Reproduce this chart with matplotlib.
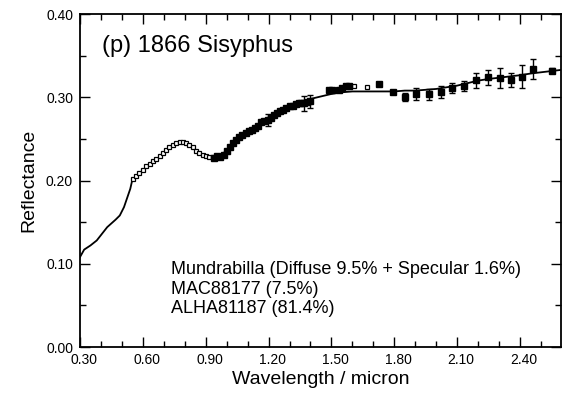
import matplotlib
matplotlib.use("Agg")
import matplotlib.pyplot as plt
import matplotlib.transforms as mtransforms
from matplotlib.ticker import MultipleLocator, FormatStrFormatter

plt.rcParams['font.family'] = ['Liberation Sans', 'DejaVu Sans']

# model spectrum (mixture fit)
model_x = [0.30, 0.32, 0.35, 0.38, 0.43, 0.47, 0.49, 0.51, 0.54, 0.55,
           0.58, 0.62, 0.65, 0.68, 0.72, 0.75, 0.78, 0.81, 0.84, 0.87,
           0.90, 0.93, 0.96, 0.99, 1.02, 1.06, 1.10, 1.15, 1.20, 1.25,
           1.30, 1.35, 1.40, 1.45, 1.50, 1.55, 1.60, 1.65, 1.70, 1.75,
           1.80, 1.85, 1.90, 1.95, 2.00, 2.05, 2.10, 2.15, 2.20, 2.25,
           2.30, 2.35, 2.40, 2.45, 2.50, 2.55, 2.60]
model_y = [0.108, 0.117, 0.122, 0.128, 0.144, 0.153, 0.158, 0.168, 0.190, 0.201,
           0.208, 0.216, 0.222, 0.228, 0.238, 0.244, 0.246, 0.244, 0.239, 0.233,
           0.229, 0.228, 0.229, 0.234, 0.241, 0.250, 0.257, 0.265, 0.273, 0.281,
           0.288, 0.294, 0.298, 0.301, 0.304, 0.306, 0.307, 0.307, 0.307, 0.307,
           0.307, 0.308, 0.308, 0.309, 0.310, 0.312, 0.314, 0.317, 0.320, 0.322,
           0.3235, 0.325, 0.3265, 0.3285, 0.330, 0.3315, 0.333]

# visible asteroid spectrum (open squares)
open_x = [0.552, 0.568, 0.584, 0.600, 0.616, 0.632, 0.648, 0.664, 0.680, 0.695,
          0.710, 0.727, 0.743, 0.759, 0.775, 0.791, 0.807, 0.822, 0.838, 0.854,
          0.870, 0.886, 0.902, 0.918, 0.934, 1.608, 1.672]
open_y = [0.202, 0.205, 0.209, 0.213, 0.217, 0.220, 0.223, 0.226, 0.229, 0.233,
          0.237, 0.240, 0.243, 0.245, 0.246, 0.246, 0.245, 0.243, 0.240, 0.236,
          0.233, 0.231, 0.229, 0.228, 0.228, 0.313, 0.312]

# near-IR spectrum (filled squares)
fill_x = [0.940, 0.955, 0.970, 0.985, 1.000, 1.015, 1.030, 1.045, 1.060, 1.075,
          1.090, 1.105, 1.120, 1.135, 1.150, 1.165, 1.180, 1.210, 1.225, 1.240,
          1.255, 1.270, 1.285, 1.300, 1.315, 1.330, 1.345, 1.355, 1.385,
          1.489, 1.505, 1.537, 1.552, 1.570, 1.584, 1.727, 1.794]
fill_y = [0.227, 0.229, 0.228, 0.231, 0.236, 0.240, 0.245, 0.249, 0.252, 0.255,
          0.257, 0.259, 0.261, 0.263, 0.266, 0.270, 0.272, 0.275, 0.279, 0.281,
          0.283, 0.285, 0.287, 0.289, 0.290, 0.292, 0.293, 0.293, 0.294,
          0.309, 0.309, 0.309, 0.311, 0.313, 0.313, 0.3155, 0.306]

# filled squares with error bars
err_x = [1.195, 1.370, 1.400, 1.851, 1.905, 1.965, 2.021, 2.076, 2.132, 2.188,
         2.248, 2.302, 2.357, 2.407, 2.462, 2.553]
err_y = [0.273, 0.293, 0.295, 0.300, 0.304, 0.3035, 0.306, 0.311, 0.3135, 0.3207,
         0.324, 0.3228, 0.3207, 0.3247, 0.3336, 0.332]
err_e = [0.007, 0.009, 0.008, 0.005, 0.007, 0.007, 0.007, 0.006, 0.006, 0.009,
         0.009, 0.012, 0.008, 0.014, 0.012, 0.003]

x_ticks = [0.30, 0.60, 0.90, 1.20, 1.50, 1.80, 2.10, 2.40]
notes = ["Mundrabilla (Diffuse 9.5% + Specular 1.6%)",
         "MAC88177 (7.5%)",
         "ALHA81187 (81.4%)"]

fig = plt.figure(figsize=(5.66, 3.96), dpi=100)
ax = fig.add_axes([0.1413, 0.1237, 0.8497, 0.8409])

ax.plot(model_x, model_y, color='black', lw=1.3, zorder=2)
ax.plot(open_x, open_y, 's', ms=3.4, mfc='white', mec='black', mew=0.9, zorder=3)
ax.plot(fill_x, fill_y, 's', ms=4.5, color='black', zorder=3)
ax.errorbar(err_x, err_y, yerr=err_e, fmt='s', ms=4.5, color='black',
            elinewidth=1.0, capsize=2.5, capthick=1.0, zorder=3)

ax.set_xlim(0.30, 2.595)
ax.set_ylim(0.0, 0.40)
ax.set_xticks(x_ticks)
ax.xaxis.set_minor_locator(MultipleLocator(0.10))
ax.yaxis.set_major_locator(MultipleLocator(0.10))
ax.yaxis.set_minor_locator(MultipleLocator(0.05))
ax.xaxis.set_major_formatter(FormatStrFormatter('%.2f'))
ax.yaxis.set_major_formatter(FormatStrFormatter('%.2f'))
ax.tick_params(which='both', direction='in', top=True, right=True,
               labelsize=10, width=1.0)
ax.tick_params(axis='x', pad=4)
ax.tick_params(axis='y', pad=5)
ax.tick_params(which='major', length=7)
ax.tick_params(which='minor', length=4)
for s in ax.spines.values():
    s.set_linewidth(1.3)

# x tick labels sit a little right of their ticks in the original
shift = mtransforms.ScaledTranslation(4 / 100, 0, fig.dpi_scale_trans)
for lab in ax.get_xticklabels():
    lab.set_transform(lab.get_transform() + shift)

ax.set_xlabel('Wavelength / micron', fontsize=14, labelpad=3)
ax.set_ylabel('Reflectance', fontsize=14, labelpad=6)

ax.text(0.045, 0.885, '(p) 1866 Sisyphus', transform=ax.transAxes,
        fontsize=17, va='baseline')
for i, t in enumerate(notes):
    ax.text(0.19, 0.219 - i * 0.0586, t, transform=ax.transAxes,
            fontsize=13, va='baseline')

fig.savefig('out.png', dpi=100)
